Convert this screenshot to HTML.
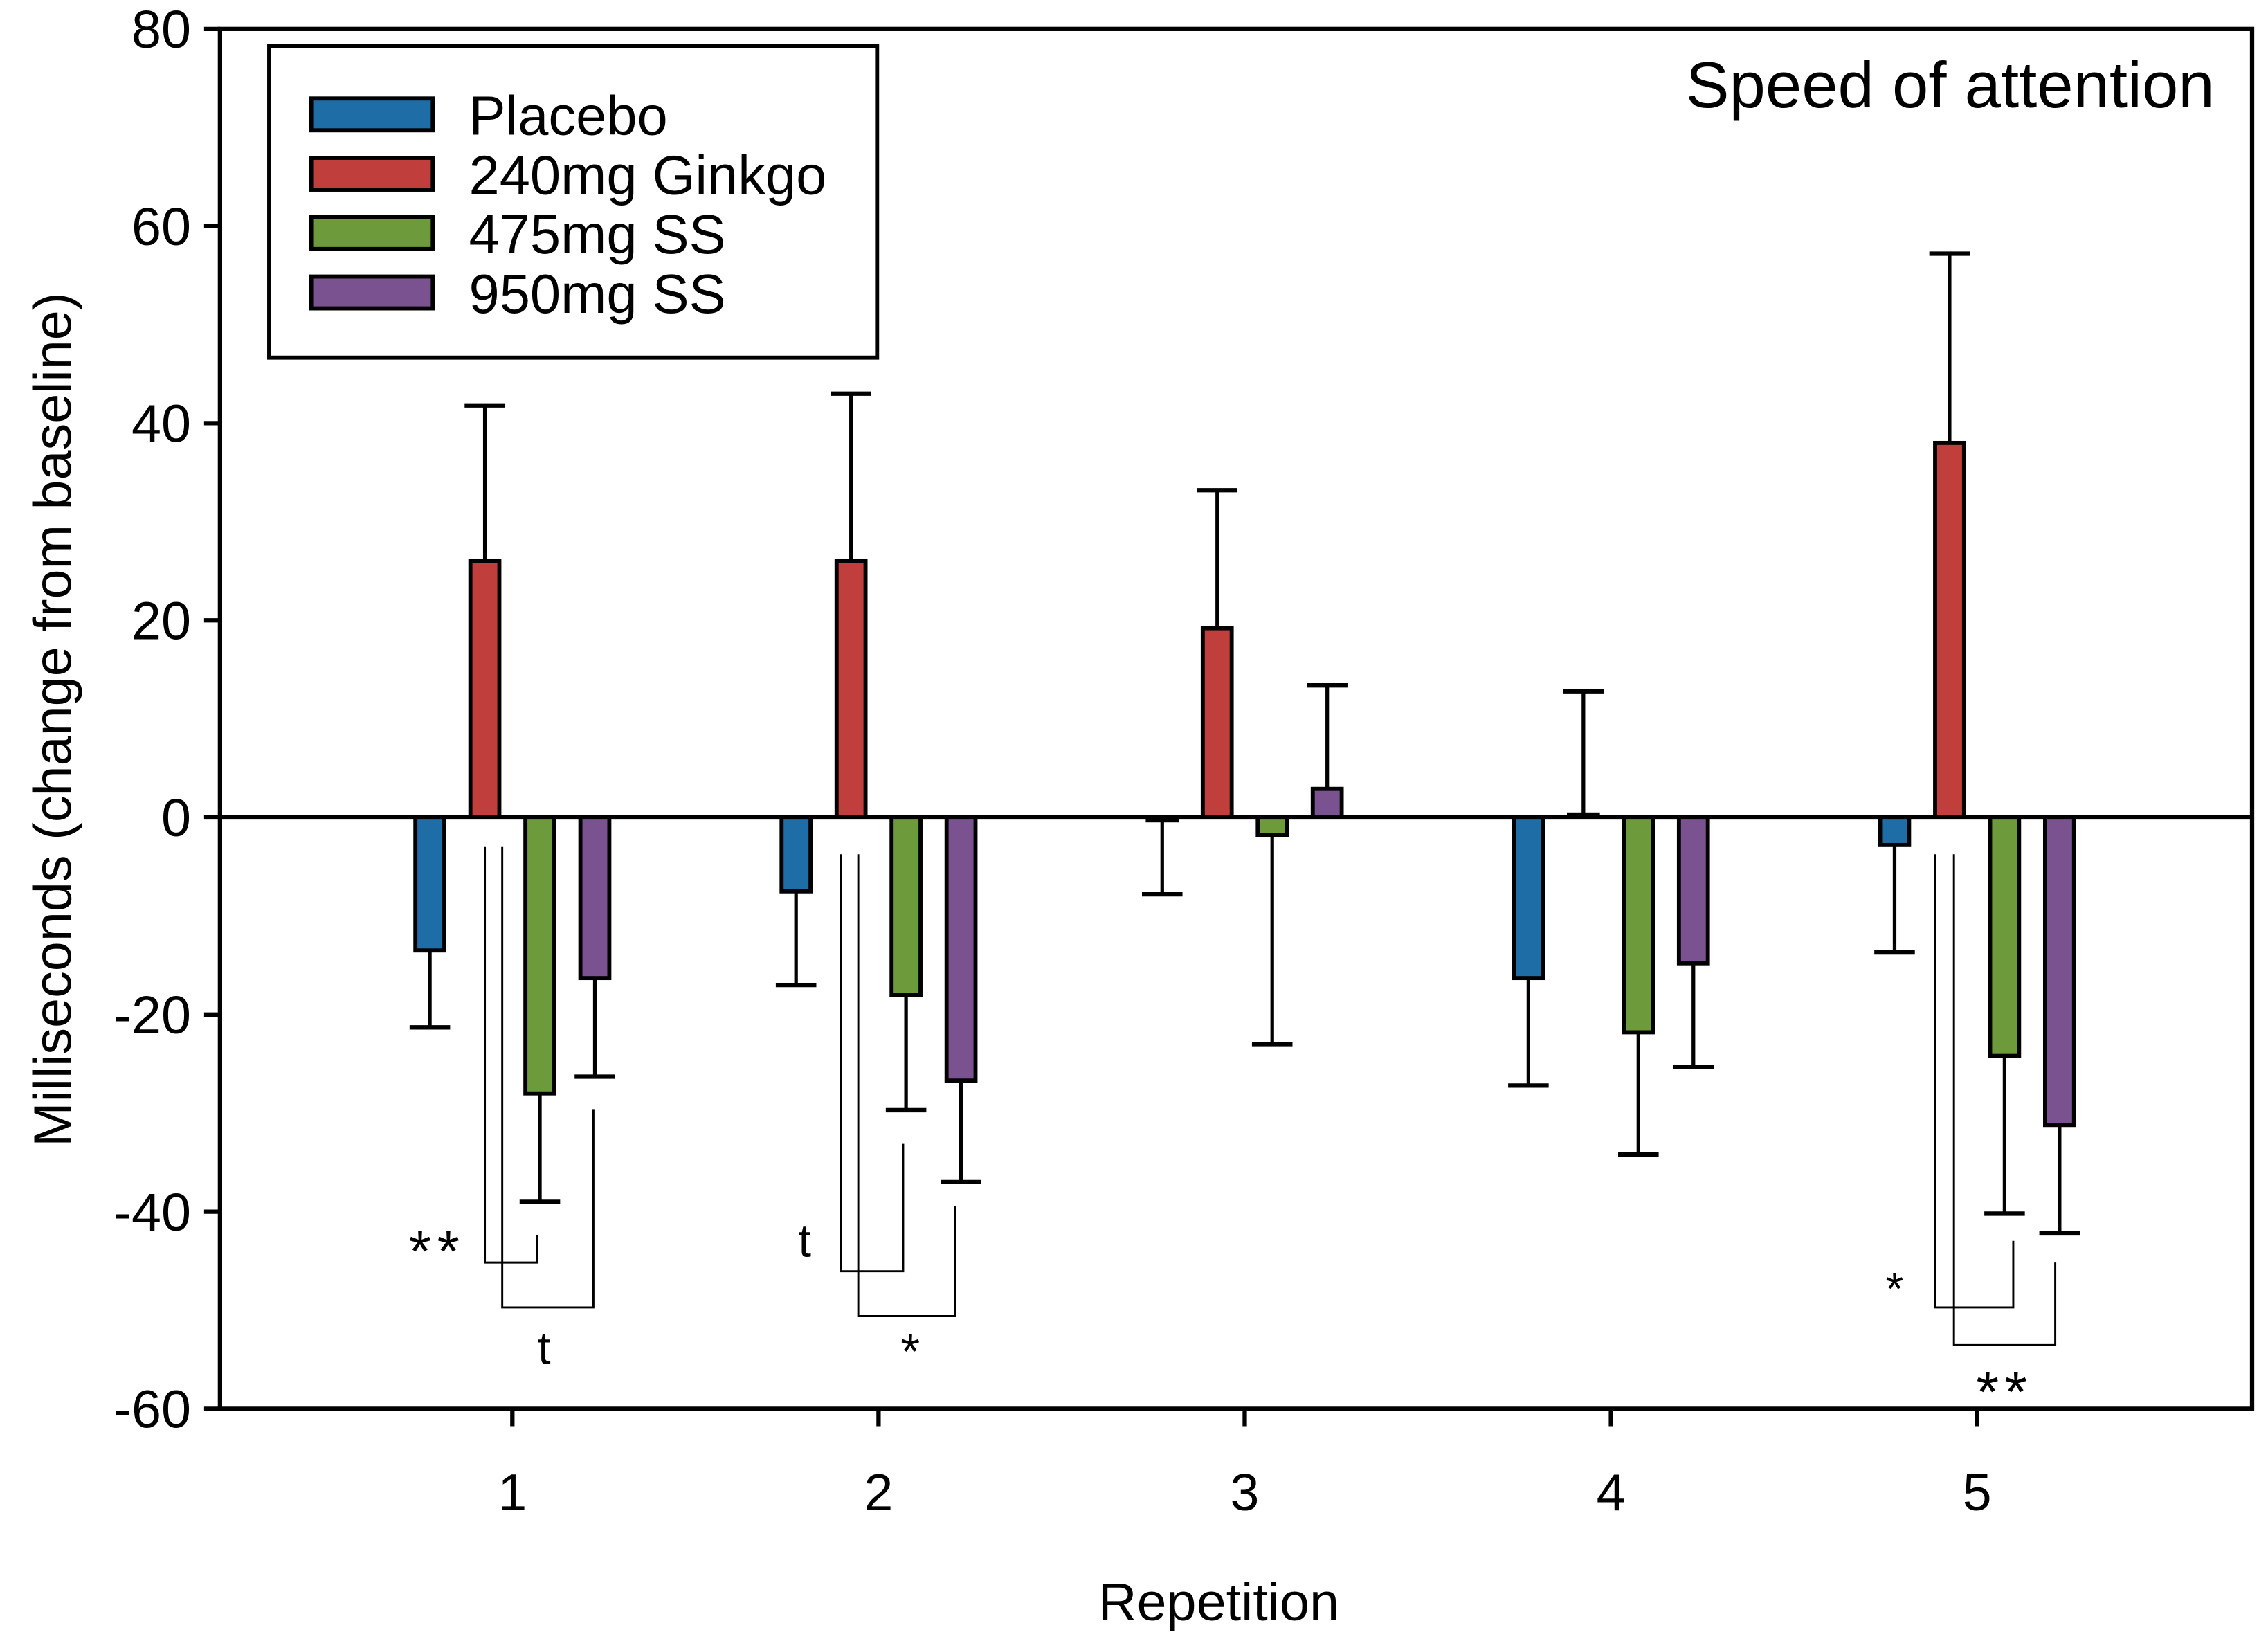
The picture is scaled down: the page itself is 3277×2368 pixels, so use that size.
<!DOCTYPE html>
<html><head><meta charset="utf-8"><style>html,body{margin:0;padding:0;background:#fff}svg{display:block}text{font-family:"Liberation Sans",sans-serif;fill:#000}</style></head>
<body>
<svg id="chart" width="3277" height="2368" viewBox="0 0 1567 1132" preserveAspectRatio="none" xmlns="http://www.w3.org/2000/svg">
<g id="plot"></g>
</svg>
<script>
const categories = ["1","2","3","4","5"];
const seriesNames = ["Placebo","240mg Ginkgo","475mg SS","950mg SS"];
const seriesColors = ["#1f6da6","#c03f3c","#6d9a3a","#7a5290"];
const placebo = [-13.5,-7.5,-0.3,-16.3,-2.8];
const ginkgo = [26,26,19.2,0.3,38];
const ss475 = [-28,-18,-1.8,-21.8,-24.2];
const ss950 = [-16.3,-26.7,2.9,-14.8,-31.2];
const placeboErr = [7.8,9.5,7.5,10.9,10.9];
const ginkgoErr = [15.8,17,14,12.5,19.2];
const ss475Err = [11,11.7,21.2,12.4,16];
const ss950Err = [10,10.3,10.5,10.5,11];
const yTicks = [80,60,40,20,0,-20,-40,-60];

const NS="http://www.w3.org/2000/svg";
const svg=document.getElementById('chart');
const L=152,R=1556,T=20,B=973,yMax=80,yMin=-60;
function y(v){return T+(yMax-v)/(yMax-yMin)*(B-T);}
function xc(i){return 354+i*253;}
function mk(tag,attrs,parent){const e=document.createElementNS(NS,tag);for(const k in attrs)e.setAttribute(k,attrs[k]);(parent||svg).appendChild(e);return e;}

const series=[placebo,ginkgo,ss475,ss950];
const errs=[placeboErr,ginkgoErr,ss475Err,ss950Err];
const offs=[-57,-19,19,57];
const bw=20;
series.forEach((s,si)=>{
  s.forEach((v,i)=>{
    const cx=xc(i)+offs[si];
    const e=errs[si][i];
    const tip = v>=0 ? v+e : v-e;
    const l=mk('line',{x1:cx,x2:cx,y1:y(v),y2:y(tip),stroke:'#000','stroke-width':2.5});
    
    
    const c=mk('line',{x1:cx-14,x2:cx+14,y1:y(tip),y2:y(tip),stroke:'#000','stroke-width':3});
    
    
    const r=mk('rect',{x:cx-bw/2,y:Math.min(y(v),y(0)),width:bw,height:Math.abs(y(v)-y(0)),fill:seriesColors[si],stroke:'#000','stroke-width':2.8});
    
    
  });
});
const z=mk('line',{x1:L,x2:R,y1:y(0),y2:y(0),stroke:'#000','stroke-width':3});


const f=mk('rect',{x:L,y:T,width:R-L,height:B-T,fill:'none',stroke:'#000','stroke-width':3});


yTicks.forEach(t=>{
  const tk=mk('line',{x1:L-11,x2:L,y1:y(t),y2:y(t),stroke:'#000','stroke-width':3});
  
  
  const tx=mk('text',{x:132,y:y(t)+13,'text-anchor':'end','font-size':37});
  tx.textContent=t;
  
  
});
categories.forEach((c,i)=>{
  const tk=mk('line',{x1:xc(i),x2:xc(i),y1:B,y2:B+12,stroke:'#000','stroke-width':3});
  
  
  const tx=mk('text',{x:xc(i),y:1043,'text-anchor':'middle','font-size':36});
  tx.textContent=c;
  
  
});
const brackets=[[335,585,371,853,872],[347,585,410,766,903],[581,590,624,790,878],[593,590,660,833,909],[1337,590,1391,857,903],[1350,590,1420,872,929]];
brackets.forEach(b=>{
  const p=mk('polyline',{points:`${b[0]},${b[1]} ${b[0]},${b[4]} ${b[2]},${b[4]} ${b[2]},${b[3]}`,fill:'none',stroke:'#000','stroke-width':1.4});
  
  
});
const marks=[["**",302,878,40],["t",378,942,32],["t",558,868,32],["*",631,945,34],["*",1311,901,32],["**",1385,975,40]];
marks.forEach(m=>{
  const t=mk('text',{x:m[1],y:m[2],'text-anchor':'middle','font-size':m[3],'letter-spacing':4});
  t.textContent=m[0];
  
  
});
const lg=mk('g',{});


mk('rect',{x:186,y:32,width:420,height:215,fill:'#fff',stroke:'#000','stroke-width':2.8},lg);
seriesNames.forEach((n,i)=>{
  const cy=79+i*41;
  const e=mk('g',{},lg);
  
  
  mk('rect',{x:215,y:cy-11,width:84,height:22,fill:seriesColors[i],stroke:'#000','stroke-width':2.8},e);
  const t=mk('text',{x:324,y:cy+14,'font-size':38},e);
  t.textContent=n;
});
const title=mk('text',{x:1530,y:74,'text-anchor':'end','font-size':45});
title.textContent='Speed of attention';


const xt=mk('text',{x:842,y:1119,'text-anchor':'middle','font-size':37});
xt.textContent='Repetition';


const yt=mk('text',{x:0,y:0,'text-anchor':'middle','font-size':37,transform:'translate(49,497) rotate(-90)'});
yt.textContent='Milliseconds (change from baseline)';


</script>
</body></html>
